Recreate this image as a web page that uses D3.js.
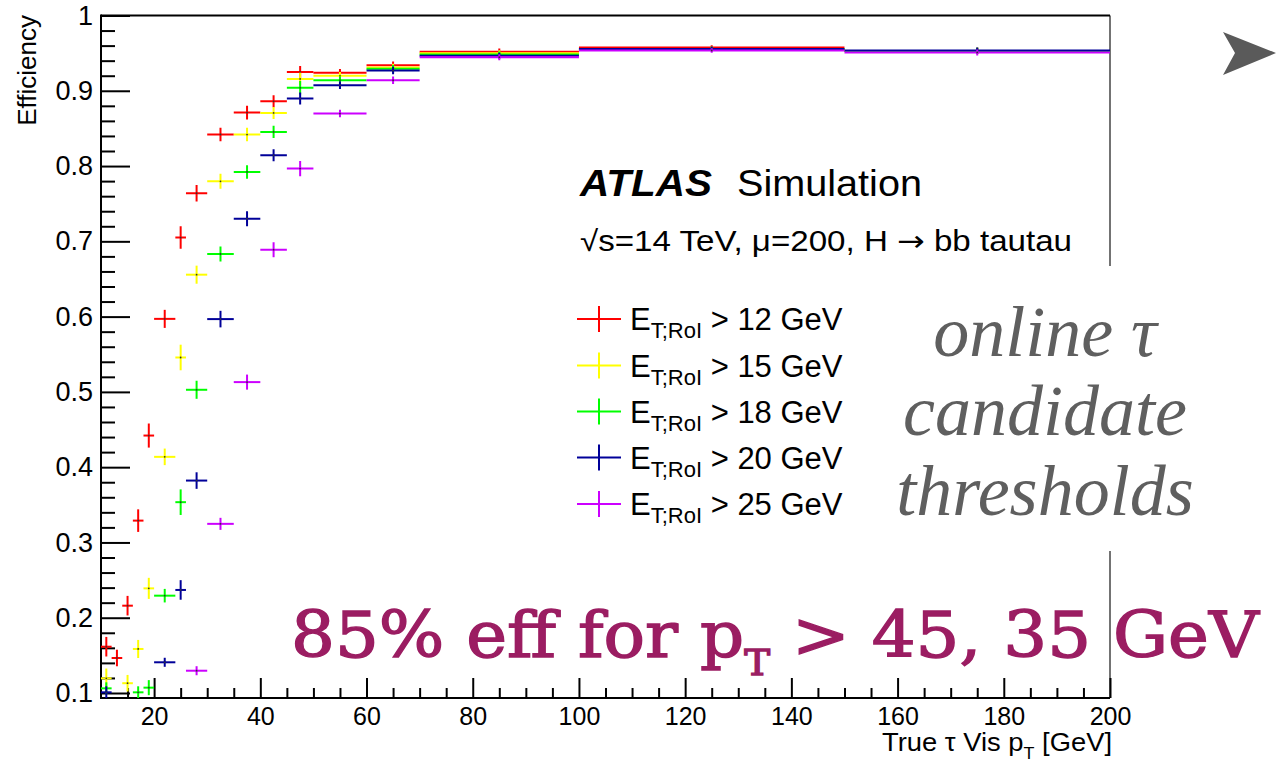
<!DOCTYPE html>
<html>
<head>
<meta charset="utf-8">
<script src="https://cdn.jsdelivr.net/npm/d3@7"></script>
<style>
  body { margin: 0; background: #fff; }
  svg { display: block; }
  .axis path { display: none; }
  .axis line { stroke: #000; stroke-width: 2; }
  .axis text { font-family: "Liberation Sans", Arial, sans-serif; font-size: 25px; fill: #000; }
  .yaxis text { font-size: 27px; }
</style>
</head>
<body>
<svg id="chart" width="1276" height="763"></svg>
<script>

// ================= data =================
var binEdges = [10, 12, 14, 16, 18, 20, 24, 26, 30, 35, 40, 45, 50, 60, 70, 100, 150, 200];

var seriesNames = ["12", "15", "18", "20", "25"];
var seriesColors = ["#ff0000", "#ffff00", "#00ff00", "#000099", "#cc00ff"];

var effEt12 = [0.1615, 0.1465, 0.216, 0.329, 0.442, 0.597, 0.705, 0.764, 0.842, 0.871, 0.886, 0.925, 0.924, 0.934, 0.952, 0.9575, 0.953];
var errEt12 = [0.013, 0.011, 0.013, 0.015, 0.016, 0.012, 0.015, 0.011, 0.009, 0.009, 0.008, 0.008, 0.005, 0.005, 0.004, 0.003, 0.004];

var effEt15 = [0.1195, null, 0.113, 0.1585, 0.239, 0.4137, 0.5457, 0.6557, 0.7797, 0.8418, 0.8706, 0.9158, 0.9198, 0.9309, 0.9499, 0.9555, 0.953];
var errEt15 = [0.013, null, 0.011, 0.012, 0.014, 0.011, 0.017, 0.012, 0.010, 0.009, 0.008, 0.008, 0.005, 0.005, 0.004, 0.003, 0.004];

var effEt18 = [0.1062, null, null, 0.1009, 0.1071, 0.2293, 0.3535, 0.5028, 0.6832, 0.7922, 0.8454, 0.9039, 0.914, 0.9291, 0.9482, 0.9555, 0.953];
var errEt18 = [0.008, null, null, 0.008, 0.010, 0.009, 0.017, 0.012, 0.010, 0.009, 0.008, 0.009, 0.005, 0.005, 0.004, 0.003, 0.004];

var effEt20 = [0.1009, null, null, null, null, 0.1408, 0.2369, 0.3822, 0.5967, 0.7301, 0.8143, 0.8897, 0.9073, 0.9269, 0.9464, 0.9555, 0.9535];
var errEt20 = [0.008, null, null, null, null, 0.006, 0.013, 0.011, 0.011, 0.010, 0.008, 0.008, 0.005, 0.005, 0.004, 0.003, 0.004];

var effEt25 = [null, null, null, null, null, null, null, 0.1296, 0.3247, 0.513, 0.6889, 0.7966, 0.8697, 0.914, 0.9446, 0.9535, 0.951];
var errEt25 = [null, null, null, null, null, null, null, 0.006, 0.008, 0.010, 0.010, 0.010, 0.005, 0.005, 0.004, 0.003, 0.004];

var xTicks = [20, 40, 60, 80, 100, 120, 140, 160, 180, 200];
var yTicks = [0.1, 0.2, 0.3, 0.4, 0.5, 0.6, 0.7, 0.8, 0.9, 1];

var allEff = [effEt12, effEt15, effEt18, effEt20, effEt25];
var allErr = [errEt12, errEt15, errEt18, errEt20, errEt25];


var svg = d3.select("#chart");
var sans = "'Liberation Sans', Arial, sans-serif";

//================= scales =====================//
var x = d3.scaleLinear().domain([10, 200]).range([101, 1110]);
var y = d3.scaleLinear().domain([0.09336, 1]).range([698, 15.5]);

// clip for the error bars
svg.append("defs").append("clipPath").attr("id", "plotclip")
  .append("rect")
  .attr("x", x(10)).attr("y", y(1))
  .attr("width", x(200) - x(10)).attr("height", y(0.09336) - y(1));

//================= frame =====================//
svg.append("line")   // right
  .attr("x1", x(200)).attr("x2", x(200)).attr("y1", y(1)).attr("y2", y(0.09336))
  .attr("stroke", "#444").attr("stroke-width", 1.5);
svg.append("line")   // top
  .attr("x1", x(10)).attr("x2", x(200)).attr("y1", y(1)).attr("y2", y(1))
  .attr("stroke", "#000").attr("stroke-width", 2);
svg.append("line")   // left
  .attr("x1", x(10)).attr("x2", x(10)).attr("y1", y(1) - 1).attr("y2", y(0.09336) + 1)
  .attr("stroke", "#000").attr("stroke-width", 2);
svg.append("line")   // bottom
  .attr("x1", x(10) - 1).attr("x2", x(200)).attr("y1", y(0.09336)).attr("y2", y(0.09336))
  .attr("stroke", "#000").attr("stroke-width", 2);

//================= axes (ticks point inwards) =====================//
var xMinor = d3.range(15, 201, 5).filter(function(d) { return d % 20 !== 0; });
var yMinor = d3.range(10, 100, 2).filter(function(d) { return d % 10 !== 0; }).map(function(d) { return d / 100; });

svg.append("g").attr("class", "axis")
  .attr("transform", "translate(0," + y(0.09336) + ")")
  .call(d3.axisBottom(x).tickValues(xMinor).tickSize(-10).tickFormat(""));
svg.append("g").attr("class", "axis")
  .attr("transform", "translate(0," + y(0.09336) + ")")
  .call(d3.axisBottom(x).tickValues(xTicks).tickSize(-20).tickPadding(9).tickFormat(d3.format("d")));

svg.append("g").attr("class", "axis")
  .attr("transform", "translate(" + x(10) + ",0)")
  .call(d3.axisLeft(y).tickValues(yMinor).tickSize(-14).tickFormat(""));
svg.append("g").attr("class", "axis yaxis")
  .attr("transform", "translate(" + x(10) + ",0)")
  .call(d3.axisLeft(y).tickValues(yTicks).tickSize(-29).tickPadding(8)
    .tickFormat(function(d) { return d === 1 ? "1" : d3.format(".1f")(d); }));

// axis titles
svg.append("text")
  .attr("transform", "translate(36,15) rotate(-90)")
  .attr("text-anchor", "end")
  .style("font-family", sans).style("font-size", "26px")
  .text("Efficiency");

var xt = svg.append("text")
  .attr("x", 1112).attr("y", 751)
  .attr("text-anchor", "end")
  .style("font-family", sans).style("font-size", "26px")
  .attr("textLength", 230).attr("lengthAdjust", "spacingAndGlyphs");
xt.append("tspan").text("True \u03c4 Vis p");
xt.append("tspan").attr("dy", 8).style("font-size", "17px").text("T");
xt.append("tspan").attr("dy", -8).text(" [GeV]");

//================= error-bar crosses =====================//
var plot = svg.append("g").attr("clip-path", "url(#plotclip)");

allEff.forEach(function(eff, s) {
  var pts = [];
  eff.forEach(function(v, i) {
    if (v === null) return;
    pts.push({lo: binEdges[i], hi: binEdges[i + 1], v: v, e: allErr[s][i]});
  });
  var g = plot.append("g").attr("stroke", seriesColors[s]).attr("stroke-width", 2);
  g.selectAll(".hbar").data(pts).enter().append("line")
    .attr("x1", function(d) { return x(d.lo); })
    .attr("x2", function(d) { return x(d.hi); })
    .attr("y1", function(d) { return y(d.v); })
    .attr("y2", function(d) { return y(d.v); });
  g.selectAll(".vbar").data(pts).enter().append("line")
    .attr("x1", function(d) { return x((d.lo + d.hi) / 2); })
    .attr("x2", function(d) { return x((d.lo + d.hi) / 2); })
    .attr("y1", function(d) { return y(d.v - d.e); })
    .attr("y2", function(d) { return y(d.v + d.e); });
  plot.append("g").selectAll("circle").data(pts).enter().append("circle")
    .attr("cx", function(d) { return x((d.lo + d.hi) / 2); })
    .attr("cy", function(d) { return y(d.v); })
    .attr("r", 0.9).attr("fill", "#333");
});

//================= ATLAS label =====================//
svg.append("text").attr("x", 580).attr("y", 196)
  .style("font-family", sans).style("font-size", "36px")
  .style("font-weight", "bold").style("font-style", "italic")
  .attr("textLength", 132).attr("lengthAdjust", "spacingAndGlyphs")
  .text("ATLAS");
svg.append("text").attr("x", 737).attr("y", 196)
  .style("font-family", sans).style("font-size", "36px")
  .attr("textLength", 185).attr("lengthAdjust", "spacingAndGlyphs")
  .text("Simulation");

var l2 = svg.append("text").attr("x", 580).attr("y", 251)
  .style("font-family", sans).style("font-size", "29px")
  .attr("textLength", 492).attr("lengthAdjust", "spacingAndGlyphs");
l2.append("tspan").text("\u221as=14 TeV, \u03bc=200, H ");
l2.append("tspan").style("font-family", "'DejaVu Sans', sans-serif").text("\u2192");
l2.append("tspan").text(" bb tautau");

//================= legend =====================//
var legY = [319, 365.5, 411.5, 457.5, 504];
seriesNames.forEach(function(name, i) {
  var lg = svg.append("g").attr("transform", "translate(599," + legY[i] + ")");
  lg.append("line").attr("x1", -22).attr("x2", 22).attr("y1", 0).attr("y2", 0)
    .attr("stroke", seriesColors[i]).attr("stroke-width", 2);
  lg.append("line").attr("x1", 0).attr("x2", 0).attr("y1", -13).attr("y2", 13)
    .attr("stroke", seriesColors[i]).attr("stroke-width", 2);
  var t = lg.append("text").attr("x", 31).attr("y", 11)
    .style("font-family", sans).style("font-size", "31px");
  t.append("tspan").text("E");
  t.append("tspan").attr("dy", 8).style("font-size", "22px").text("T;RoI");
  t.append("tspan").attr("dy", -8).text(" > " + name + " GeV");
});

//================= annotations =====================//
svg.append("rect").attr("x", 1060).attr("y", 266).attr("width", 216).attr("height", 285).attr("fill", "#fff");

var noteLines = ["online \u03c4", "candidate", "thresholds"];
var noteY = [356, 435, 515];
noteLines.forEach(function(s, i) {
  svg.append("text").attr("x", 1045).attr("y", noteY[i])
    .attr("text-anchor", "middle")
    .style("font-family", "'Liberation Serif', serif").style("font-style", "italic")
    .style("font-size", "72px").style("fill", "#5f5f5f")
    .text(s);
});

var big = svg.append("text")
  .attr("transform", "translate(291,657) scale(1.078,1)")
  .style("font-family", "'DejaVu Serif', serif").style("font-size", "64px")
  .style("fill", "#9b1d62").style("stroke", "#9b1d62").style("stroke-width", 1.4);
big.append("tspan").text("85% eff for p");
big.append("tspan").attr("dy", 18).style("font-size", "36px").text("T");
big.append("tspan").attr("dy", -18).text(" > 45, 35 GeV");

// slide arrow, top right
svg.append("path")
  .attr("d", "M1223,32 L1276,53 L1223,75 L1235,53 Z")
  .attr("fill", "#5a5a5a");

</script>
</body>
</html>
